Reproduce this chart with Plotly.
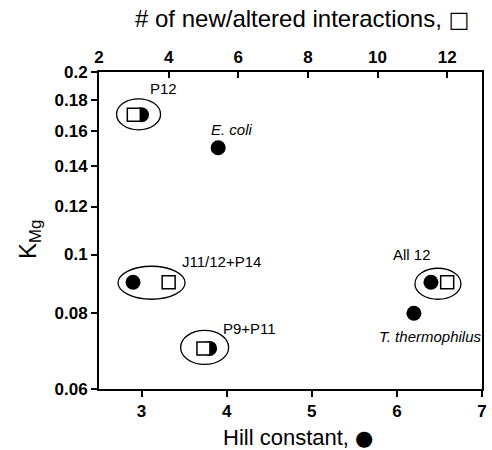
import math
import plotly.graph_objects as go

# ---- data ----
constructs = ["P12", "E. coli", "J11/12+P14", "P9+P11", "All 12", "T. thermophilus"]
hill = [3.0, 3.9, 2.9, 3.8, 6.4, 6.2]
kmg = [0.17, 0.15, 0.09, 0.07, 0.09, 0.08]

sq_constructs = ["P12", "J11/12+P14", "P9+P11", "All 12"]
interactions = [3, 4, 5, 12]
sq_kmg = [0.17, 0.09, 0.07, 0.09]

y_ticks = [0.06, 0.08, 0.1, 0.12, 0.14, 0.16, 0.18, 0.2]
y_ticktext = ["0.06", "0.08", "0.1", "0.12", "0.14", "0.16", "0.18", "0.2"]
x_ticks = [3, 4, 5, 6, 7]
x2_ticks = [2, 4, 6, 8, 10, 12]

# ---- styles ----
FONT = "Liberation Sans, Arial, sans-serif"
label_style = {
    "P12": dict(dx=22, dy=26, italic=False),
    "E. coli": dict(dx=14, dy=18, italic=True),
    "J11/12+P14": dict(dx=88, dy=21, italic=False),
    "P9+P11": dict(dx=40, dy=20, italic=False),
    "All 12": dict(dx=-19, dy=28, italic=False),
    "T. thermophilus": dict(dx=16, dy=-23, italic=True),
}
# ellipse pixel extents (x0, x1, y0, y1) relative to the filled circle of each group
ellipse_style = {
    "P12": (-25, 19, -15, 16),
    "J11/12+P14": (-15, 52, -17, 16),
    "P9+P11": (-29, 19, -16, 18),
    "All 12": (-16, 30, -17, 14),
}

Y_RANGE = [math.log10(0.06), math.log10(0.2)]

fig = go.Figure()

fig.add_trace(go.Scatter(
    x=hill, y=kmg, mode="markers", xaxis="x", yaxis="y",
    marker=dict(symbol="circle", size=15, color="black", line=dict(width=0)),
    showlegend=False, hoverinfo="skip"))

fig.add_trace(go.Scatter(
    x=interactions, y=sq_kmg, mode="markers", xaxis="x2", yaxis="y",
    marker=dict(symbol="square", size=13, color="white",
                line=dict(width=1.5, color="black")),
    showlegend=False, hoverinfo="skip"))

annotations = []
for name, hx, ky in zip(constructs, hill, kmg):
    st = label_style[name]
    txt = f"<i>{name}</i>" if st["italic"] else name
    annotations.append(dict(
        x=hx, y=math.log10(ky), xref="x", yref="y", text=txt,
        showarrow=False, xshift=st["dx"], yshift=st["dy"],
        font=dict(family=FONT, size=15, color="black")))

shapes = []
for name, hx, ky in zip(constructs, hill, kmg):
    if name in ellipse_style:
        x0, x1, y0, y1 = ellipse_style[name]
        shapes.append(dict(
            type="circle", xref="x", yref="y2",
            xsizemode="pixel", ysizemode="pixel",
            xanchor=hx, yanchor=math.log10(ky),
            x0=x0, x1=x1, y0=y0, y1=y1,
            line=dict(color="black", width=1.3)))

# axis titles
annotations.append(dict(
    x=0.53, y=1, xref="paper", yref="paper", yanchor="middle", yshift=54,
    text="# of new/altered interactions, "
         "<span style=\"font-family:'DejaVu Sans';font-size:22px;font-weight:bold\">\u25a1</span>",
    showarrow=False,
    font=dict(family=FONT, size=24, color="black")))
annotations.append(dict(
    x=0.52, y=0, xref="paper", yref="paper", yanchor="middle", yshift=-48,
    text="Hill constant, <span style=\"font-family:'DejaVu Sans';font-size:21px\">\u25cf</span>",
    showarrow=False,
    font=dict(family=FONT, size=22, color="black")))
annotations.append(dict(
    x=0, y=0.47, xref="paper", yref="paper", xanchor="center", xshift=-70,
    text="K<sub>Mg</sub>", textangle=-90, showarrow=False,
    font=dict(family=FONT, size=24, color="black")))

axis_common = dict(showgrid=False, zeroline=False, showline=True,
                   linecolor="black", linewidth=2, tickcolor="black",
                   tickwidth=2, ticklen=6,
                   tickfont=dict(family=FONT, size=17, color="black", weight="bold"))

fig.update_layout(
    width=492, height=450,
    margin=dict(l=99, r=5, t=72, b=61),
    paper_bgcolor="white", plot_bgcolor="white",
    xaxis=dict(range=[2.5, 7], tickvals=x_ticks, ticks="outside", **axis_common),
    xaxis2=dict(range=[2, 13], tickvals=x2_ticks, ticks="inside", side="top",
                overlaying="x", anchor="y", **axis_common),
    yaxis=dict(type="log", range=Y_RANGE,
               tickvals=y_ticks, ticktext=y_ticktext, ticks="outside",
               mirror=True, **axis_common),
    yaxis2=dict(type="linear", range=Y_RANGE, overlaying="y", visible=False,
                showgrid=False, zeroline=False),
    annotations=annotations, shapes=shapes,
)

fig.write_html("out.html")
